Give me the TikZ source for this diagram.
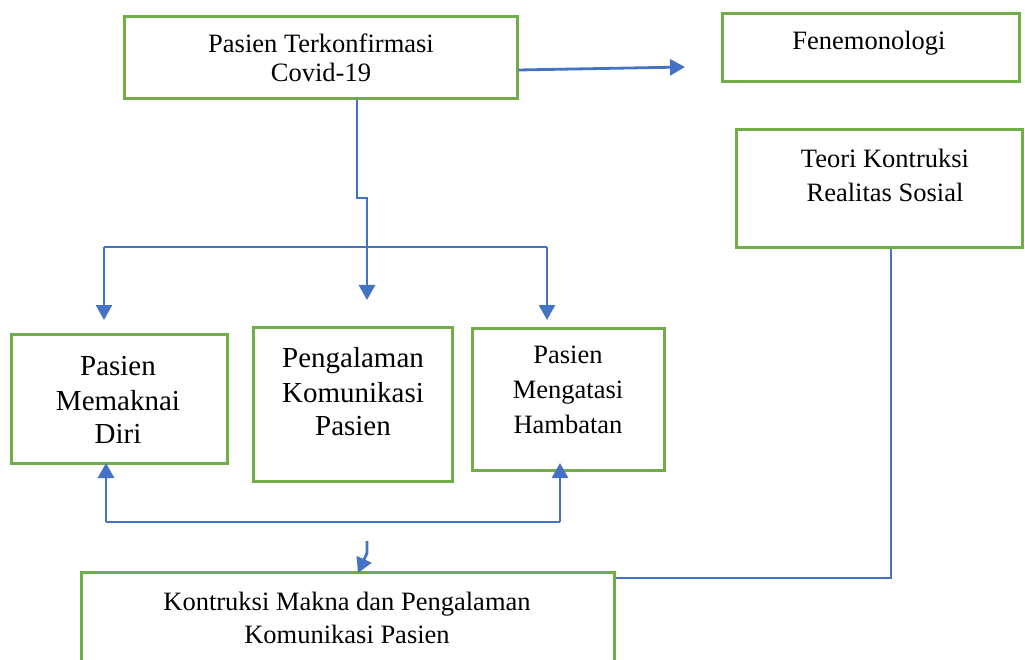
\documentclass[tikz,border=0pt]{standalone}
\usepackage{fontspec}
\setmainfont{Liberation Serif}
\usetikzlibrary{arrows.meta}
\definecolor{grn}{HTML}{70AD47}
\definecolor{blu}{HTML}{4472C4}
\begin{document}
\begin{tikzpicture}[x=1pt,y=-1pt,
  box/.style={draw=grn, line width=3pt, inner sep=0pt, fill=none},
  lbl/.style={anchor=base, inner sep=0pt, font=\fontsize{26.5}{30}\selectfont},
  big/.style={anchor=base, inner sep=0pt, font=\fontsize{29}{34}\selectfont},
  thickline/.style={draw=blu, line width=2.8pt},
  thinline/.style={draw=blu, line width=1.4pt},
  tip/.style={-{Triangle[length=15pt,width=16pt]}}]
\fill[white] (0,0) rectangle (1025,660);
\clip (0,0) rectangle (1025,660);

% boxes
\node[box, minimum width=393pt, minimum height=82pt] (top) at (320.5,58) {};
\node[box, minimum width=297pt, minimum height=68pt] (fen) at (870.5,48) {};
\node[box, minimum width=286pt, minimum height=118pt] (teori) at (879,189) {};
\node[box, minimum width=216pt, minimum height=129pt] (diri) at (119,398.5) {};
\node[box, minimum width=199pt, minimum height=154pt] (peng) at (352.5,404) {};
\node[box, minimum width=192pt, minimum height=142pt] (hamb) at (568,399) {};
\node[box, minimum width=533pt, minimum height=108pt] (bot) at (347.5,626) {};

% texts
\node[lbl] (t1a) at (321,53) {Pasien Terkonfirmasi};
\node[lbl] (t1b) at (321,82) {Covid-19};
\node[lbl] (t2) at (869,50) {Fenemonologi};
\node[lbl] (t3a) at (885,168) {Teori Kontruksi};
\node[lbl] (t3b) at (885,202) {Realitas Sosial};
\node[big] (t4a) at (118,375) {Pasien};
\node[big] (t4b) at (118,410) {Memaknai};
\node[big] (t4c) at (118,443) {Diri};
\node[big] (t5a) at (353,367) {Pengalaman};
\node[big] (t5b) at (353,402) {Komunikasi};
\node[big] (t5c) at (353,435) {Pasien};
\node[lbl] (t6a) at (568,363) {Pasien};
\node[lbl] (t6b) at (568,398) {Mengatasi};
\node[lbl] (t6c) at (568,433) {Hambatan};
\node[lbl] (t7a) at (347,610) {Kontruksi Makna dan Pengalaman};
\node[lbl] (t7b) at (347,643) {Komunikasi Pasien};

% coordinates
\coordinate (fenIn) at (685,67);
\coordinate (pengIn) at (367,300);
\coordinate (brL) at (104,247);
\coordinate (brR) at (547,247);
\coordinate (diriIn) at (104,320);
\coordinate (hambIn) at (547,320);
\coordinate (loL) at (106,522);
\coordinate (loR) at (560,522);
\coordinate (diriUp) at (106,463);
\coordinate (hambUp) at (560,463);
\coordinate (sA) at (367,541);
\coordinate (sB) at (367,553);
\coordinate (botIn) at (358,573);

% connectors
\draw[thickline,tip] ([yshift=-12pt]top.east) -- (fenIn);
\draw[thickline,tip] ([xshift=36.5pt]top.south) |- (367,198) -- (pengIn);
\draw[thinline] (brL) -- (brR);
\draw[thickline,tip] (brL) -- (diriIn);
\draw[thickline,tip] (brR) -- (hambIn);
\draw[thinline] (loL) -- (loR);
\draw[thickline,tip] (loL) -- (diriUp);
\draw[thickline,tip] (loR) -- (hambUp);
\draw[thickline,tip] (sA) -- (sB) -- (botIn);
\draw[thinline] ([xshift=12pt]teori.south) |- ([yshift=48pt]bot.east);
\end{tikzpicture}
\end{document}
